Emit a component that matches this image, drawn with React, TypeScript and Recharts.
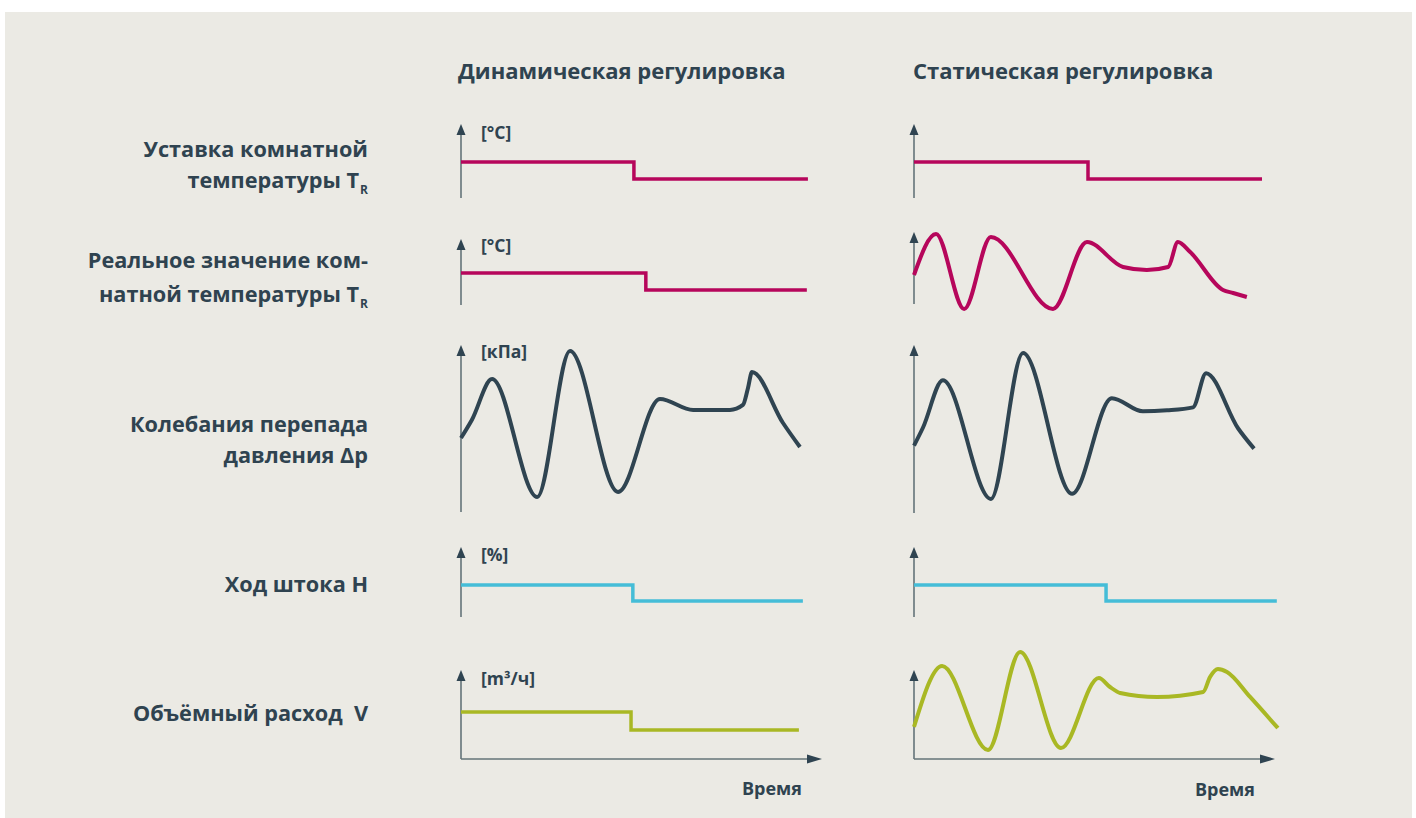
import { LineChart, Line, XAxis, YAxis, ReferenceLine, ReferenceDot } from "recharts";

// time runs 0..100 along each x axis, signal 0..100 = axis bottom..arrow tip
const setpointDynT = [0, 47.9, 96.1];
const setpointDynV = [48.6, 25.7, 25.7];
const setpointStatT = [0, 48.2, 96.4];
const setpointStatV = [48.6, 25.7, 25.7];

const roomDynT = [0, 51.2, 95.8];
const roomDynV = [48.5, 22.7, 22.7];
const roomStatT = [0, 6.1, 13.9, 21.3, 38.5, 47.9, 57.9, 64.5, 70.4, 73.1, 76.5, 85.6, 88.4, 92.2];
const roomStatV = [40.3, 97.2, -6.9, 93.1, -6.9, 86.1, 51.4, 47.2, 51.4, 86.1, 72.2, 19.4, 15.3, 9.7];

const pressureDynT = [0, 3.0, 8.6, 21.1, 30.2, 43.5, 55.1, 64.3, 74.5, 78.1, 79.5, 80.6, 89.2, 93.9];
const pressureDynV = [44.3, 55.1, 79.6, 9.0, 96.4, 12.0, 67.7, 61.1, 61.1, 64.1, 74.3, 83.8, 53.3, 38.9];
const pressureStatT = [0, 2.5, 8.0, 21.3, 30.2, 43.8, 54.8, 63.4, 70.1, 77.3, 80.9, 89.8, 94.2];
const pressureStatV = [40.1, 50.9, 79.0, 8.4, 95.2, 11.4, 68.3, 60.5, 61.1, 62.9, 83.2, 50.3, 38.3];

const strokeDynT = [0, 47.6, 94.7];
const strokeDynV = [45.7, 22.9, 22.9];
const strokeStatT = [0, 53.2, 100.5];
const strokeStatV = [45.7, 22.9, 22.9];

const flowDynT = [0, 47.1, 93.6];
const flowDynV = [52.8, 32.6, 32.6];
const flowStatT = [0, 7.8, 20.5, 29.4, 40.7, 51.2, 54.3, 57.1, 67.3, 80.1, 82.0, 84.2, 86.7, 93.1, 100.8];
const flowStatV = [36.0, 104.5, 10.1, 120.2, 12.4, 91.0, 80.9, 74.2, 69.7, 75.3, 92.1, 101.1, 97.8, 69.7, 34.8];

const columnTitles = ["Динамическая регулировка", "Статическая регулировка"];
const units = ["[°C]", "[°C]", "[кПа]", "[%]", "[m³/ч]"];
const timeLabel = "Время";

const MAGENTA = "#b6065b";
const SLATE = "#2f4451";
const CYAN = "#45bdd7";
const OLIVE = "#a9b824";
const AXIS = "#647479";
const TEXT = "#2f4350";
const FONT = "'Open Sans', sans-serif";

const PX_PER_T = 3.61;
const COL_X = [461, 914];

interface Frame { top: number; bottom: number }

function ArrowUp(props: any) {
  const { cx, cy } = props;
  if (cx == null || cy == null) return null;
  return <path d={`M${cx},${cy} L${cx - 4.5},${cy + 11} L${cx + 4.5},${cy + 11} Z`} fill={SLATE} />;
}

function ArrowRight(props: any) {
  const { cx, cy } = props;
  if (cx == null || cy == null) return null;
  return <path d={`M${cx},${cy} L${cx - 15},${cy - 4.5} L${cx - 15},${cy + 4.5} Z`} fill={SLATE} />;
}

function Panel({ col, frame, t, v, color, curve, timeAxis }: {
  col: number; frame: Frame; t: number[]; v: number[]; color: string; curve: boolean; timeAxis?: boolean;
}) {
  const padL = 12, padR = 30, padT = 30, padB = 20;
  const h = frame.bottom - frame.top;
  const sy = h / 100;
  const width = 361 + padL + padR;
  const height = h + padT + padB;
  const data = t.map((tt, i) => ({ t: tt, v: v[i] }));
  return (
    <div style={{ position: "absolute", left: COL_X[col] - padL, top: frame.top - padT }}>
      <LineChart width={width} height={height} data={data} margin={{ top: 0, right: 0, bottom: 0, left: 0 }}>
        <XAxis dataKey="t" type="number" domain={[-padL / PX_PER_T, 100 + padR / PX_PER_T]} hide allowDataOverflow />
        <YAxis type="number" domain={[-padB / sy, 100 + padT / sy]} hide allowDataOverflow />
        <ReferenceLine segment={[{ x: 0, y: 0 }, { x: 0, y: 96 }]} stroke={AXIS} strokeWidth={1.6} ifOverflow="visible" />
        <ReferenceDot x={0} y={100} shape={<ArrowUp />} ifOverflow="visible" />
        {timeAxis && (
          <ReferenceLine segment={[{ x: 0, y: 0 }, { x: 97, y: 0 }]} stroke={AXIS} strokeWidth={1.6} ifOverflow="visible" />
        )}
        {timeAxis && <ReferenceDot x={100} y={0} shape={<ArrowRight />} ifOverflow="visible" />}
        <Line
          dataKey="v"
          type={curve ? "monotone" : "stepAfter"}
          stroke={color}
          strokeWidth={curve ? 4 : 3.5}
          strokeLinejoin={curve ? "round" : "miter"}
          dot={false}
          activeDot={false}
          isAnimationActive={false}
        />
      </LineChart>
    </div>
  );
}

// baseline-positioned text
function Txt({ x, y, size, align = "left", children }: { x: number; y: number; size: number; align?: string; children: any }) {
  const style: any = {
    position: "absolute",
    top: y - 0.888 * size,
    fontSize: size,
    lineHeight: `${size}px`,
    fontWeight: 700,
    color: TEXT,
    whiteSpace: "nowrap",
  };
  if (align === "right") style.right = 1416 - x;
  else if (align === "center") { style.left = x; style.transform = "translateX(-50%)"; }
  else style.left = x;
  return <div style={style}>{children}</div>;
}

const Sub = ({ children }: any) => (
  <span style={{ fontSize: 12, position: "relative", top: 6, marginLeft: 1 }}>{children}</span>
);

export default function App() {
  const rows: Frame[][] = [
    [{ top: 124, bottom: 198 }, { top: 124, bottom: 198 }],
    [{ top: 239, bottom: 305 }, { top: 232, bottom: 304 }],
    [{ top: 345, bottom: 512 }, { top: 345, bottom: 513 }],
    [{ top: 547, bottom: 617 }, { top: 547, bottom: 617 }],
    [{ top: 670, bottom: 759 }, { top: 670, bottom: 759 }],
  ];
  const unitBaselines = [140, 253, 359, 562, 686];
  const LS = 21.7;

  return (
    <div style={{ position: "absolute", left: 0, top: 0, width: 1416, height: 818, background: "#ffffff", fontFamily: FONT, overflow: "hidden" }}>
      <div style={{ position: "absolute", left: 5, top: 12, width: 1407, height: 806, background: "#ebeae4" }} />

      <Txt x={458} y={79} size={22}>{columnTitles[0]}</Txt>
      <Txt x={913} y={79} size={22}>{columnTitles[1]}</Txt>

      <Txt x={368} y={157} size={LS} align="right">Уставка комнатной</Txt>
      <Txt x={368} y={188} size={LS} align="right">температуры T<Sub>R</Sub></Txt>
      <Txt x={368} y={268} size={LS} align="right">Реальное значение ком-</Txt>
      <Txt x={368} y={302} size={LS} align="right">натной температуры T<Sub>R</Sub></Txt>
      <Txt x={368} y={432} size={LS} align="right">Колебания перепада</Txt>
      <Txt x={368} y={463} size={LS} align="right">давления Δp</Txt>
      <Txt x={368} y={592} size={LS} align="right">Ход штока H</Txt>
      <Txt x={368} y={721} size={LS} align="right">Объёмный расход&nbsp;&nbsp;V</Txt>

      {units.map((u, i) => (
        <Txt key={i} x={481} y={unitBaselines[i]} size={17.5}>{u}</Txt>
      ))}

      <Panel col={0} frame={rows[0][0]} t={setpointDynT} v={setpointDynV} color={MAGENTA} curve={false} />
      <Panel col={1} frame={rows[0][1]} t={setpointStatT} v={setpointStatV} color={MAGENTA} curve={false} />
      <Panel col={0} frame={rows[1][0]} t={roomDynT} v={roomDynV} color={MAGENTA} curve={false} />
      <Panel col={1} frame={rows[1][1]} t={roomStatT} v={roomStatV} color={MAGENTA} curve />
      <Panel col={0} frame={rows[2][0]} t={pressureDynT} v={pressureDynV} color={SLATE} curve />
      <Panel col={1} frame={rows[2][1]} t={pressureStatT} v={pressureStatV} color={SLATE} curve />
      <Panel col={0} frame={rows[3][0]} t={strokeDynT} v={strokeDynV} color={CYAN} curve={false} />
      <Panel col={1} frame={rows[3][1]} t={strokeStatT} v={strokeStatV} color={CYAN} curve={false} />
      <Panel col={0} frame={rows[4][0]} t={flowDynT} v={flowDynV} color={OLIVE} curve={false} timeAxis />
      <Panel col={1} frame={rows[4][1]} t={flowStatT} v={flowStatV} color={OLIVE} curve timeAxis />

      <Txt x={772} y={795} size={18} align="center">{timeLabel}</Txt>
      <Txt x={1225} y={796} size={18} align="center">{timeLabel}</Txt>
    </div>
  );
}
